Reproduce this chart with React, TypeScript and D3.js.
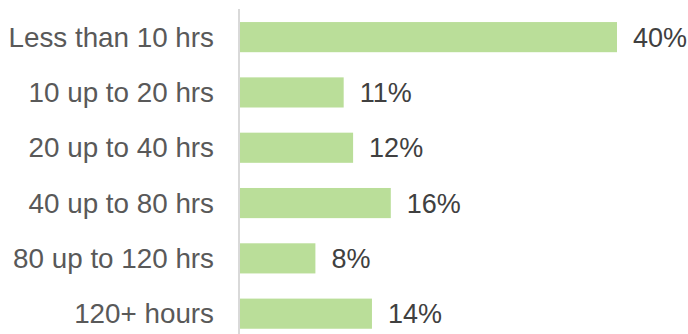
import React from "react";
import * as d3 from "d3";

const categories = ["Less than 10 hrs", "10 up to 20 hrs", "20 up to 40 hrs", "40 up to 80 hrs", "80 up to 120 hrs", "120+ hours"];
const values = [40, 11, 12, 16, 8, 14];
const valueLabels = ["40%", "11%", "12%", "16%", "8%", "14%"];

const W = 688;
const H = 334;

export default function App() {
  const x0 = 240;
  const x = d3.scaleLinear().domain([0, 40]).range([x0, 617]);
  const y = d3
    .scaleBand<string>()
    .domain(categories)
    .range([9.5, 9.5 + 55.3 * 6])
    .paddingInner(0.455)
    .paddingOuter(0.227);
  const font = "'Liberation Sans', Arial, sans-serif";
  return (
    <svg width={W} height={H} style={{ position: "absolute", left: 0, top: 0, background: "#fff" }}>
      {categories.map((c, i) => {
        const yy = y(c)!;
        const bw = y.bandwidth();
        return (
          <g key={c}>
            <rect x={x0} y={yy} width={x(values[i]) - x0} height={bw} fill="#bade99" />
            <text x={214} y={yy + bw / 2} dy="0.35em" textAnchor="end" fontFamily={font} fontSize={27.8} fill="#595959">
              {c}
            </text>
            <text x={x(values[i]) + 16} y={yy + bw / 2} dy="0.35em" textAnchor="start" fontFamily={font} fontSize={27} fill="#404040">
              {valueLabels[i]}
            </text>
          </g>
        );
      })}
      <line x1={239} x2={239} y1={9} y2={H} stroke="#d9d9d9" strokeWidth={2} />
    </svg>
  );
}
